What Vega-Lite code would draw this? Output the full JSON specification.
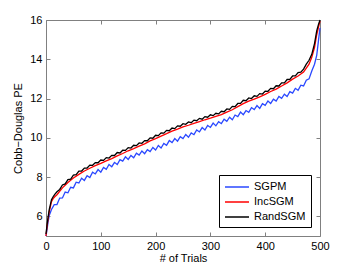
{
  "$schema": "https://vega.github.io/schema/vega-lite/v6.json",
  "width": 274,
  "height": 216,
  "autosize": {"type": "none"},
  "padding": {"left": 46, "top": 20, "right": 34, "bottom": 31},
  "config": {
    "view": {"stroke": "#808080", "strokeWidth": 1},
    "font": "Liberation Sans",
    "axis": {
      "domain": false,
      "grid": false,
      "tickSize": -4,
      "tickColor": "#808080",
      "labelFontSize": 11,
      "labelColor": "#000000",
      "labelFlush": false,
      "labelOverlap": false,
      "titleFontSize": 11,
      "titleFontWeight": "normal",
      "titleColor": "#000000"
    },
    "legend": {
      "labelFontSize": 11,
      "labelColor": "#000000"
    }
  },
  "data": {
    "values": [
      {"method":"SGPM","trial":0,"pe":5.0},{"method":"SGPM","trial":2,"pe":5.35},{"method":"SGPM","trial":4,"pe":5.75},{"method":"SGPM","trial":5,"pe":5.9},{"method":"SGPM","trial":6,"pe":6.05},{"method":"SGPM","trial":8,"pe":6.2},{"method":"SGPM","trial":10,"pe":6.35},{"method":"SGPM","trial":15,"pe":6.6},{"method":"SGPM","trial":20,"pe":6.6},{"method":"SGPM","trial":25,"pe":6.93},{"method":"SGPM","trial":30,"pe":6.94},{"method":"SGPM","trial":35,"pe":7.24},{"method":"SGPM","trial":40,"pe":7.2},{"method":"SGPM","trial":45,"pe":7.48},{"method":"SGPM","trial":50,"pe":7.45},{"method":"SGPM","trial":55,"pe":7.74},{"method":"SGPM","trial":60,"pe":7.7},{"method":"SGPM","trial":65,"pe":7.94},{"method":"SGPM","trial":70,"pe":7.83},{"method":"SGPM","trial":75,"pe":8.07},{"method":"SGPM","trial":80,"pe":7.98},{"method":"SGPM","trial":85,"pe":8.25},{"method":"SGPM","trial":90,"pe":8.16},{"method":"SGPM","trial":95,"pe":8.38},{"method":"SGPM","trial":100,"pe":8.25},{"method":"SGPM","trial":105,"pe":8.49},{"method":"SGPM","trial":110,"pe":8.4},{"method":"SGPM","trial":115,"pe":8.64},{"method":"SGPM","trial":120,"pe":8.53},{"method":"SGPM","trial":125,"pe":8.75},{"method":"SGPM","trial":130,"pe":8.64},{"method":"SGPM","trial":135,"pe":8.89},{"method":"SGPM","trial":140,"pe":8.81},{"method":"SGPM","trial":145,"pe":9.03},{"method":"SGPM","trial":150,"pe":8.9},{"method":"SGPM","trial":155,"pe":9.1},{"method":"SGPM","trial":160,"pe":8.98},{"method":"SGPM","trial":165,"pe":9.22},{"method":"SGPM","trial":170,"pe":9.12},{"method":"SGPM","trial":175,"pe":9.33},{"method":"SGPM","trial":180,"pe":9.19},{"method":"SGPM","trial":185,"pe":9.4},{"method":"SGPM","trial":190,"pe":9.3},{"method":"SGPM","trial":195,"pe":9.51},{"method":"SGPM","trial":200,"pe":9.38},{"method":"SGPM","trial":205,"pe":9.61},{"method":"SGPM","trial":210,"pe":9.48},{"method":"SGPM","trial":215,"pe":9.71},{"method":"SGPM","trial":220,"pe":9.62},{"method":"SGPM","trial":225,"pe":9.86},{"method":"SGPM","trial":230,"pe":9.76},{"method":"SGPM","trial":235,"pe":9.96},{"method":"SGPM","trial":240,"pe":9.83},{"method":"SGPM","trial":245,"pe":10.06},{"method":"SGPM","trial":250,"pe":9.96},{"method":"SGPM","trial":255,"pe":10.17},{"method":"SGPM","trial":260,"pe":10.03},{"method":"SGPM","trial":265,"pe":10.25},{"method":"SGPM","trial":270,"pe":10.16},{"method":"SGPM","trial":275,"pe":10.4},{"method":"SGPM","trial":280,"pe":10.3},{"method":"SGPM","trial":285,"pe":10.52},{"method":"SGPM","trial":290,"pe":10.4},{"method":"SGPM","trial":295,"pe":10.63},{"method":"SGPM","trial":300,"pe":10.53},{"method":"SGPM","trial":305,"pe":10.75},{"method":"SGPM","trial":310,"pe":10.61},{"method":"SGPM","trial":315,"pe":10.82},{"method":"SGPM","trial":320,"pe":10.72},{"method":"SGPM","trial":325,"pe":10.95},{"method":"SGPM","trial":330,"pe":10.84},{"method":"SGPM","trial":335,"pe":11.05},{"method":"SGPM","trial":340,"pe":10.92},{"method":"SGPM","trial":345,"pe":11.16},{"method":"SGPM","trial":350,"pe":11.08},{"method":"SGPM","trial":355,"pe":11.31},{"method":"SGPM","trial":360,"pe":11.18},{"method":"SGPM","trial":365,"pe":11.39},{"method":"SGPM","trial":370,"pe":11.3},{"method":"SGPM","trial":375,"pe":11.54},{"method":"SGPM","trial":380,"pe":11.44},{"method":"SGPM","trial":385,"pe":11.64},{"method":"SGPM","trial":390,"pe":11.5},{"method":"SGPM","trial":395,"pe":11.74},{"method":"SGPM","trial":400,"pe":11.65},{"method":"SGPM","trial":405,"pe":11.88},{"method":"SGPM","trial":410,"pe":11.75},{"method":"SGPM","trial":415,"pe":11.97},{"method":"SGPM","trial":420,"pe":11.87},{"method":"SGPM","trial":425,"pe":12.11},{"method":"SGPM","trial":430,"pe":12.01},{"method":"SGPM","trial":435,"pe":12.22},{"method":"SGPM","trial":440,"pe":12.1},{"method":"SGPM","trial":445,"pe":12.35},{"method":"SGPM","trial":450,"pe":12.28},{"method":"SGPM","trial":455,"pe":12.52},{"method":"SGPM","trial":460,"pe":12.42},{"method":"SGPM","trial":465,"pe":12.68},{"method":"SGPM","trial":470,"pe":12.64},{"method":"SGPM","trial":475,"pe":12.93},{"method":"SGPM","trial":480,"pe":13.0},{"method":"SGPM","trial":485,"pe":13.4},{"method":"SGPM","trial":490,"pe":13.75},{"method":"SGPM","trial":494,"pe":14.2},{"method":"SGPM","trial":497,"pe":14.9},{"method":"SGPM","trial":500,"pe":15.6},
      {"method":"IncSGM","trial":0,"pe":5.0},{"method":"IncSGM","trial":2,"pe":5.5},{"method":"IncSGM","trial":4,"pe":5.9},{"method":"IncSGM","trial":6,"pe":6.25},{"method":"IncSGM","trial":8,"pe":6.5},{"method":"IncSGM","trial":10,"pe":6.75},{"method":"IncSGM","trial":13,"pe":6.9},{"method":"IncSGM","trial":16,"pe":7.0},{"method":"IncSGM","trial":20,"pe":7.1},{"method":"IncSGM","trial":30,"pe":7.45},{"method":"IncSGM","trial":40,"pe":7.72},{"method":"IncSGM","trial":50,"pe":7.95},{"method":"IncSGM","trial":60,"pe":8.14},{"method":"IncSGM","trial":70,"pe":8.31},{"method":"IncSGM","trial":80,"pe":8.45},{"method":"IncSGM","trial":90,"pe":8.58},{"method":"IncSGM","trial":100,"pe":8.7},{"method":"IncSGM","trial":110,"pe":8.83},{"method":"IncSGM","trial":120,"pe":8.94},{"method":"IncSGM","trial":130,"pe":9.08},{"method":"IncSGM","trial":140,"pe":9.2},{"method":"IncSGM","trial":150,"pe":9.34},{"method":"IncSGM","trial":160,"pe":9.45},{"method":"IncSGM","trial":170,"pe":9.58},{"method":"IncSGM","trial":180,"pe":9.69},{"method":"IncSGM","trial":190,"pe":9.84},{"method":"IncSGM","trial":200,"pe":9.96},{"method":"IncSGM","trial":210,"pe":10.09},{"method":"IncSGM","trial":220,"pe":10.21},{"method":"IncSGM","trial":230,"pe":10.34},{"method":"IncSGM","trial":240,"pe":10.44},{"method":"IncSGM","trial":250,"pe":10.56},{"method":"IncSGM","trial":260,"pe":10.64},{"method":"IncSGM","trial":270,"pe":10.74},{"method":"IncSGM","trial":280,"pe":10.82},{"method":"IncSGM","trial":290,"pe":10.92},{"method":"IncSGM","trial":300,"pe":11.0},{"method":"IncSGM","trial":310,"pe":11.09},{"method":"IncSGM","trial":320,"pe":11.18},{"method":"IncSGM","trial":330,"pe":11.31},{"method":"IncSGM","trial":340,"pe":11.43},{"method":"IncSGM","trial":350,"pe":11.59},{"method":"IncSGM","trial":360,"pe":11.74},{"method":"IncSGM","trial":370,"pe":11.87},{"method":"IncSGM","trial":380,"pe":11.97},{"method":"IncSGM","trial":390,"pe":12.09},{"method":"IncSGM","trial":400,"pe":12.21},{"method":"IncSGM","trial":410,"pe":12.36},{"method":"IncSGM","trial":420,"pe":12.48},{"method":"IncSGM","trial":430,"pe":12.64},{"method":"IncSGM","trial":440,"pe":12.8},{"method":"IncSGM","trial":450,"pe":12.99},{"method":"IncSGM","trial":460,"pe":13.15},{"method":"IncSGM","trial":470,"pe":13.35},{"method":"IncSGM","trial":475,"pe":13.55},{"method":"IncSGM","trial":480,"pe":13.75},{"method":"IncSGM","trial":485,"pe":14.1},{"method":"IncSGM","trial":490,"pe":14.6},{"method":"IncSGM","trial":494,"pe":15.25},{"method":"IncSGM","trial":497,"pe":15.6},{"method":"IncSGM","trial":500,"pe":15.95},
      {"method":"RandSGM","trial":0,"pe":5.1},{"method":"RandSGM","trial":2,"pe":5.6},{"method":"RandSGM","trial":4,"pe":6.0},{"method":"RandSGM","trial":6,"pe":6.35},{"method":"RandSGM","trial":8,"pe":6.6},{"method":"RandSGM","trial":10,"pe":6.85},{"method":"RandSGM","trial":13,"pe":7.0},{"method":"RandSGM","trial":16,"pe":7.12},{"method":"RandSGM","trial":20,"pe":7.25},{"method":"RandSGM","trial":25,"pe":7.37},{"method":"RandSGM","trial":30,"pe":7.6},{"method":"RandSGM","trial":35,"pe":7.65},{"method":"RandSGM","trial":40,"pe":7.87},{"method":"RandSGM","trial":45,"pe":7.9},{"method":"RandSGM","trial":50,"pe":8.1},{"method":"RandSGM","trial":55,"pe":8.12},{"method":"RandSGM","trial":60,"pe":8.3},{"method":"RandSGM","trial":65,"pe":8.31},{"method":"RandSGM","trial":70,"pe":8.46},{"method":"RandSGM","trial":75,"pe":8.46},{"method":"RandSGM","trial":80,"pe":8.61},{"method":"RandSGM","trial":85,"pe":8.6},{"method":"RandSGM","trial":90,"pe":8.74},{"method":"RandSGM","trial":95,"pe":8.73},{"method":"RandSGM","trial":100,"pe":8.87},{"method":"RandSGM","trial":105,"pe":8.85},{"method":"RandSGM","trial":110,"pe":8.99},{"method":"RandSGM","trial":115,"pe":8.97},{"method":"RandSGM","trial":120,"pe":9.11},{"method":"RandSGM","trial":125,"pe":9.1},{"method":"RandSGM","trial":130,"pe":9.25},{"method":"RandSGM","trial":135,"pe":9.23},{"method":"RandSGM","trial":140,"pe":9.37},{"method":"RandSGM","trial":145,"pe":9.36},{"method":"RandSGM","trial":150,"pe":9.5},{"method":"RandSGM","trial":155,"pe":9.48},{"method":"RandSGM","trial":160,"pe":9.62},{"method":"RandSGM","trial":165,"pe":9.6},{"method":"RandSGM","trial":170,"pe":9.74},{"method":"RandSGM","trial":175,"pe":9.72},{"method":"RandSGM","trial":180,"pe":9.86},{"method":"RandSGM","trial":185,"pe":9.85},{"method":"RandSGM","trial":190,"pe":10.0},{"method":"RandSGM","trial":195,"pe":9.98},{"method":"RandSGM","trial":200,"pe":10.13},{"method":"RandSGM","trial":205,"pe":10.11},{"method":"RandSGM","trial":210,"pe":10.25},{"method":"RandSGM","trial":215,"pe":10.24},{"method":"RandSGM","trial":220,"pe":10.38},{"method":"RandSGM","trial":225,"pe":10.36},{"method":"RandSGM","trial":230,"pe":10.5},{"method":"RandSGM","trial":235,"pe":10.47},{"method":"RandSGM","trial":240,"pe":10.61},{"method":"RandSGM","trial":245,"pe":10.59},{"method":"RandSGM","trial":250,"pe":10.72},{"method":"RandSGM","trial":255,"pe":10.69},{"method":"RandSGM","trial":260,"pe":10.81},{"method":"RandSGM","trial":265,"pe":10.77},{"method":"RandSGM","trial":270,"pe":10.9},{"method":"RandSGM","trial":275,"pe":10.87},{"method":"RandSGM","trial":280,"pe":10.99},{"method":"RandSGM","trial":285,"pe":10.95},{"method":"RandSGM","trial":290,"pe":11.08},{"method":"RandSGM","trial":295,"pe":11.05},{"method":"RandSGM","trial":300,"pe":11.17},{"method":"RandSGM","trial":305,"pe":11.13},{"method":"RandSGM","trial":310,"pe":11.25},{"method":"RandSGM","trial":315,"pe":11.22},{"method":"RandSGM","trial":320,"pe":11.35},{"method":"RandSGM","trial":325,"pe":11.33},{"method":"RandSGM","trial":330,"pe":11.47},{"method":"RandSGM","trial":335,"pe":11.45},{"method":"RandSGM","trial":340,"pe":11.6},{"method":"RandSGM","trial":345,"pe":11.59},{"method":"RandSGM","trial":350,"pe":11.75},{"method":"RandSGM","trial":355,"pe":11.75},{"method":"RandSGM","trial":360,"pe":11.91},{"method":"RandSGM","trial":365,"pe":11.89},{"method":"RandSGM","trial":370,"pe":12.03},{"method":"RandSGM","trial":375,"pe":12.0},{"method":"RandSGM","trial":380,"pe":12.14},{"method":"RandSGM","trial":385,"pe":12.11},{"method":"RandSGM","trial":390,"pe":12.25},{"method":"RandSGM","trial":395,"pe":12.23},{"method":"RandSGM","trial":400,"pe":12.38},{"method":"RandSGM","trial":405,"pe":12.37},{"method":"RandSGM","trial":410,"pe":12.52},{"method":"RandSGM","trial":415,"pe":12.5},{"method":"RandSGM","trial":420,"pe":12.65},{"method":"RandSGM","trial":425,"pe":12.64},{"method":"RandSGM","trial":430,"pe":12.8},{"method":"RandSGM","trial":435,"pe":12.8},{"method":"RandSGM","trial":440,"pe":12.97},{"method":"RandSGM","trial":445,"pe":12.98},{"method":"RandSGM","trial":450,"pe":13.15},{"method":"RandSGM","trial":455,"pe":13.15},{"method":"RandSGM","trial":460,"pe":13.32},{"method":"RandSGM","trial":465,"pe":13.34},{"method":"RandSGM","trial":470,"pe":13.5},{"method":"RandSGM","trial":475,"pe":13.75},{"method":"RandSGM","trial":480,"pe":13.95},{"method":"RandSGM","trial":485,"pe":14.25},{"method":"RandSGM","trial":490,"pe":14.8},{"method":"RandSGM","trial":494,"pe":15.45},{"method":"RandSGM","trial":497,"pe":15.75},{"method":"RandSGM","trial":500,"pe":16.0}
    ]
  },
  "layer": [
    {
      "mark": {"type": "line", "strokeWidth": 1.3},
      "encoding": {
        "x": {
          "field": "trial", "type": "quantitative",
          "scale": {"domain": [0, 500], "nice": false},
          "axis": {"values": [0, 100, 200, 300, 400, 500], "title": "# of Trials", "labelPadding": 8, "titlePadding": 1}
        },
        "y": {
          "field": "pe", "type": "quantitative",
          "scale": {"domain": [5, 16], "nice": false, "zero": false},
          "axis": {"values": [6, 8, 10, 12, 14, 16], "title": "Cobb−Douglas PE", "labelPadding": 8, "titlePadding": 6}
        },
        "color": {
          "field": "method", "type": "nominal",
          "scale": {"domain": ["SGPM", "IncSGM", "RandSGM"], "range": ["#2a48ff", "#ff0000", "#000000"]},
          "legend": {
            "title": null,
            "orient": "none",
            "legendX": 173,
            "legendY": 155,
            "direction": "vertical",
            "symbolType": "M-1,0H3",
            "symbolSize": 144,
            "symbolStrokeWidth": 1.5,
            "labelOffset": 16,
            "rowPadding": 3,
            "padding": 5,
            "strokeColor": "#000000",
            "fillColor": "#ffffff"
          }
        }
      }
    },
    {
      "mark": {"type": "line", "opacity": 0},
      "encoding": {
        "x": {
          "field": "trial", "type": "quantitative",
          "axis": {"orient": "top", "values": [0, 100, 200, 300, 400, 500], "labels": false, "title": null}
        },
        "y": {
          "field": "pe", "type": "quantitative",
          "axis": {"orient": "right", "values": [6, 8, 10, 12, 14, 16], "labels": false, "title": null}
        },
        "detail": {"field": "method"}
      }
    }
  ],
  "resolve": {"axis": {"x": "independent", "y": "independent"}}
}
